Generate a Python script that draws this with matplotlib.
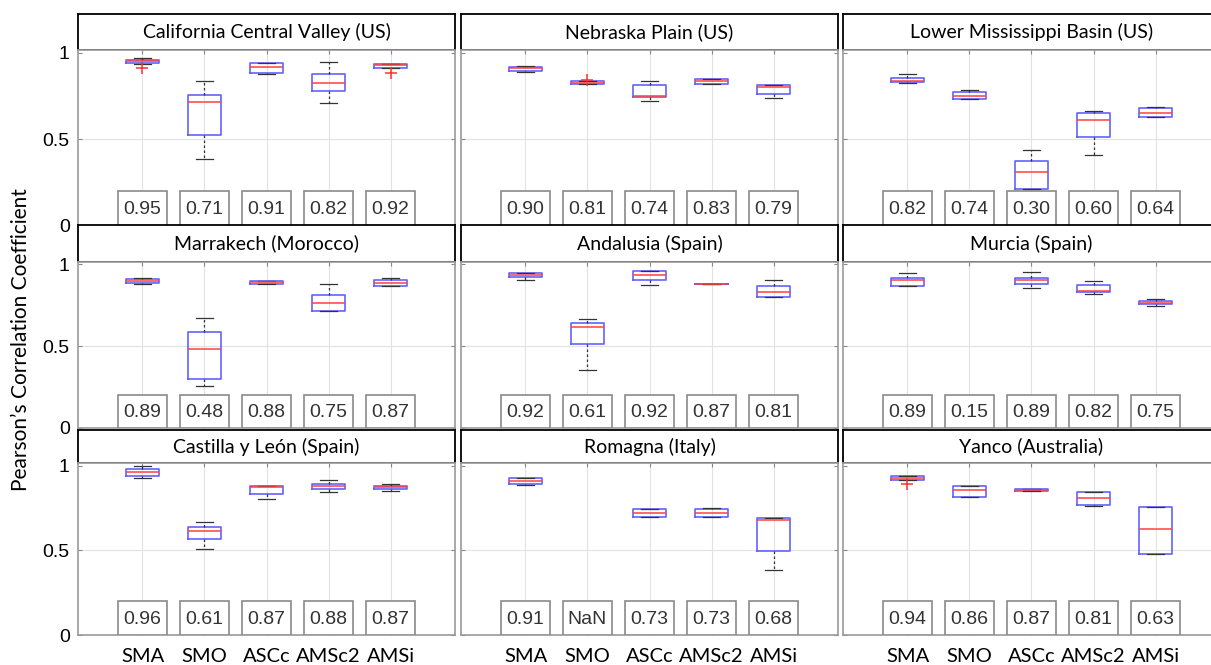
import matplotlib.pyplot as plt
import numpy as np
from matplotlib.patches import Rectangle

regions = ['California Central Valley (US)', 'Nebraska Plain (US)', 'Lower Mississippi Basin (US)',
           'Marrakech (Morocco)', 'Andalusia (Spain)', 'Murcia (Spain)',
           'Castilla y León (Spain)', 'Romagna (Italy)', 'Yanco (Australia)']
methods = ['SMA', 'SMO', 'ASCc', 'AMSc2', 'AMSi']

# median value printed in each box
labels = [['0.95', '0.71', '0.91', '0.82', '0.92'],
          ['0.90', '0.81', '0.74', '0.83', '0.79'],
          ['0.82', '0.74', '0.30', '0.60', '0.64'],
          ['0.89', '0.48', '0.88', '0.75', '0.87'],
          ['0.92', '0.61', '0.92', '0.87', '0.81'],
          ['0.89', '0.15', '0.89', '0.82', '0.75'],
          ['0.96', '0.61', '0.87', '0.88', '0.87'],
          ['0.91', 'NaN', '0.73', '0.73', '0.68'],
          ['0.94', '0.86', '0.87', '0.81', '0.63']]

nan = np.nan
med = [[0.950, 0.716, 0.916, 0.824, 0.926],
       [0.909, 0.826, 0.749, 0.835, 0.802],
       [0.835, 0.752, 0.311, 0.612, 0.652],
       [0.898, 0.486, 0.890, 0.763, 0.884],
       [0.933, 0.618, 0.937, 0.882, 0.833],
       [0.902, nan, 0.902, 0.839, 0.767],
       [0.960, 0.612, 0.871, 0.881, 0.871],
       [0.906, nan, 0.720, 0.722, 0.680],
       [0.926, 0.854, 0.858, 0.806, 0.628]]
q1 = [[0.940, 0.523, 0.880, 0.779, 0.912],
      [0.895, 0.820, 0.743, 0.820, 0.764],
      [0.828, 0.730, 0.211, 0.512, 0.631],
      [0.886, 0.302, 0.882, 0.714, 0.869],
      [0.922, 0.516, 0.906, 0.882, 0.802],
      [0.869, nan, 0.882, 0.833, 0.757],
      [0.941, 0.564, 0.834, 0.863, 0.859],
      [0.890, nan, 0.694, 0.698, 0.494],
      [0.916, 0.814, 0.850, 0.770, 0.480]]
q3 = [[0.955, 0.754, 0.938, 0.874, 0.932],
      [0.918, 0.835, 0.812, 0.845, 0.816],
      [0.854, 0.770, 0.377, 0.652, 0.683],
      [0.908, 0.586, 0.898, 0.812, 0.904],
      [0.945, 0.645, 0.957, 0.882, 0.867],
      [0.916, nan, 0.918, 0.876, 0.776],
      [0.980, 0.636, 0.877, 0.893, 0.881],
      [0.926, nan, 0.744, 0.744, 0.688],
      [0.936, 0.880, 0.864, 0.844, 0.756]]
lo = [[0.935, 0.384, 0.876, 0.708, 0.912],
      [0.890, 0.818, 0.720, 0.818, 0.739],
      [0.826, 0.730, 0.211, 0.412, 0.631],
      [0.878, 0.255, 0.880, 0.714, 0.869],
      [0.906, 0.353, 0.876, 0.882, 0.802],
      [0.869, nan, 0.855, 0.822, 0.745],
      [0.929, 0.505, 0.800, 0.846, 0.848],
      [0.884, nan, 0.694, 0.698, 0.382],
      [0.916, 0.814, 0.848, 0.764, 0.476]]
hi = [[0.970, 0.839, 0.938, 0.943, 0.934],
      [0.920, 0.836, 0.835, 0.846, 0.816],
      [0.877, 0.787, 0.436, 0.662, 0.687],
      [0.916, 0.671, 0.898, 0.882, 0.918],
      [0.949, 0.667, 0.957, 0.882, 0.904],
      [0.947, nan, 0.951, 0.900, 0.786],
      [0.996, 0.667, 0.879, 0.913, 0.889],
      [0.926, nan, 0.744, 0.752, 0.688],
      [0.937, 0.880, 0.864, 0.844, 0.756]]
fliers = [[[0.91], [], [], [], [0.88]],
          [[], [0.84], [], [], []],
          [[], [], [], [], []],
          [[], [], [], [], []],
          [[], [], [], [], []],
          [[], [], [], [], []],
          [[], [], [], [], []],
          [[], [], [], [], []],
          [[0.89], [], [], [], []]]

W, H = 1211, 665
col_left = [78, 461, 843]
col_w = 377
title_rows = [(14, 50), (225, 262), (430, 463)]
axes_rows = [(50, 226), (262, 428), (463, 635)]

plt.rcParams['font.family'] = ['Liberation Sans', 'DejaVu Sans']

fig = plt.figure(figsize=(W / 100, H / 100), dpi=100)
pos = np.arange(1, 6)

for i, name in enumerate(regions):
    r, c = divmod(i, 3)
    x0 = col_left[c] / W
    w = col_w / W

    # title box
    t0, t1 = title_rows[r]
    tax = fig.add_axes([x0, 1 - t1 / H, w, (t1 - t0) / H])
    tax.set_xticks([])
    tax.set_yticks([])
    for s in tax.spines.values():
        s.set_color('black')
        s.set_linewidth(1.3)
    tax.text(0.5, 0.5, name, ha='center', va='center', fontsize=14,
             family=['Lato', 'DejaVu Sans'], transform=tax.transAxes)

    a0, a1 = axes_rows[r]
    ax = fig.add_axes([x0, 1 - a1 / H, w, (a1 - a0) / H])
    ax.set_xlim(-0.04, 6.04)
    ax.set_ylim(0, 1.015)

    for x in pos:
        ax.axvline(x, color='#e2e2e2', lw=0.8, zorder=0)
    ax.axhline(0.5, color='#e2e2e2', lw=0.8, zorder=0)

    stats = []
    spos = []
    for j in range(5):
        if np.isnan(med[i][j]):
            continue
        stats.append(dict(med=med[i][j], q1=q1[i][j], q3=q3[i][j],
                          whislo=lo[i][j], whishi=hi[i][j], fliers=fliers[i][j]))
        spos.append(pos[j])
    ax.bxp(stats, positions=spos, widths=0.52, capwidths=0.27, manage_ticks=False,
           boxprops=dict(color='#6262ff', lw=1.2),
           medianprops=dict(color='#ff4040', lw=1.1),
           whiskerprops=dict(color='#333333', lw=0.9, ls=(0, (2, 2))),
           capprops=dict(color='#333333', lw=0.9),
           flierprops=dict(marker='+', markeredgecolor='#ff3030', markersize=8, mew=1.1))

    for j in range(5):
        ax.add_patch(Rectangle((pos[j] - 0.395, 0.0), 0.79, 0.203, facecolor='white',
                               edgecolor='#8a8a8a', lw=1.2, zorder=3))
        ax.text(pos[j], 0.093, labels[i][j], ha='center', va='center', fontsize=14,
                color='#333333', zorder=4)

    for s in ax.spines.values():
        s.set_color('#999999')
        s.set_linewidth(1.2)
    ax.set_yticks([0, 0.5, 1])
    ax.tick_params(direction='in', length=3, color='#888888', top=True, right=True,
                   labelsize=14, pad=6)
    ax.set_xticks(pos)
    if c == 0:
        ax.set_yticklabels(['0', '0.5', '1'])
    else:
        ax.set_yticklabels([])
    if r == 2:
        ax.set_xticklabels(methods, family=['Lato', 'DejaVu Sans'], fontsize=14.5)
        ax.tick_params(axis='x', pad=9)
    else:
        ax.set_xticklabels([])

fig.text(0.017, 0.49, 'Pearson\u2019s Correlation Coefficient', rotation=90,
         ha='center', va='center', fontsize=15, family=['Lato', 'DejaVu Sans'])

fig.savefig('out.png', dpi=100)
